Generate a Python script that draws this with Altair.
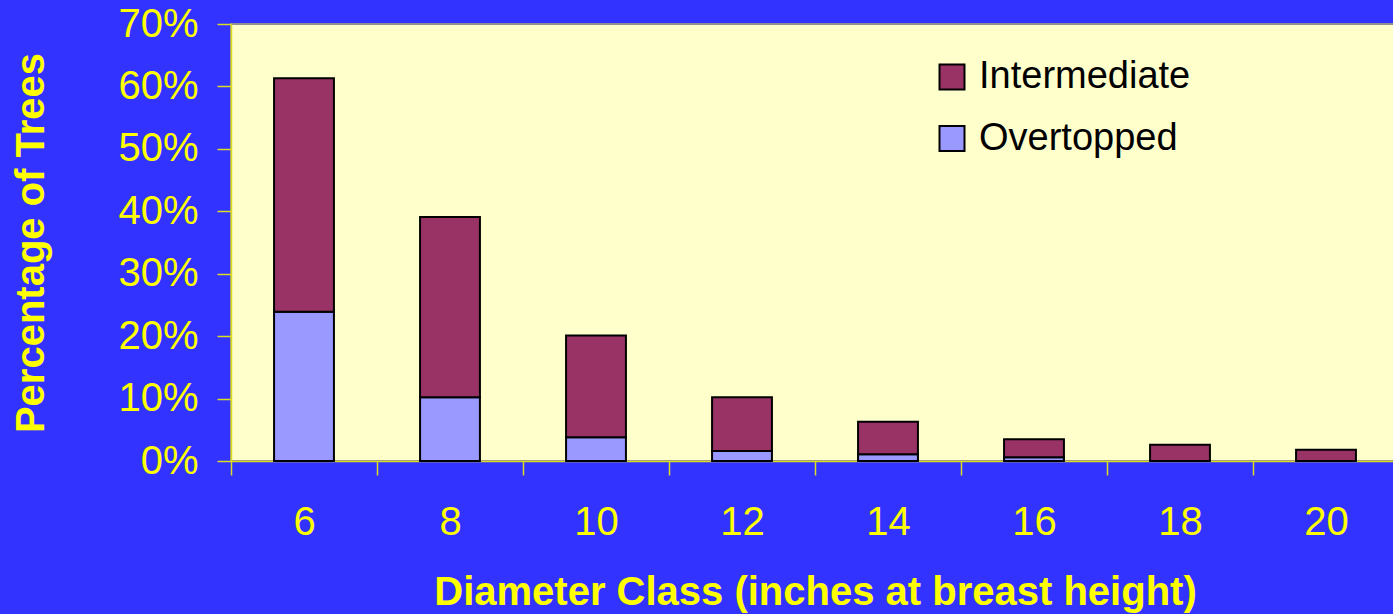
import altair as alt
import pandas as pd

classes = ["6", "8", "10", "12", "14", "16", "18", "20"]
overtopped = [23.9, 10.2, 3.8, 1.6, 1.1, 0.6, 0.0, 0.0]
intermediate = [37.4, 28.9, 16.3, 8.6, 5.2, 2.9, 2.6, 1.8]
series = ["Intermediate", "Overtopped"]
colors = ["#993366", "#9999FF"]
y_ticks = [0, 0.1, 0.2, 0.3, 0.4, 0.5, 0.6, 0.7]

rows = []
for i, c in enumerate(classes):
    rows.append({"cls": c, "series": "Overtopped", "ord": 0, "value": overtopped[i] / 100})
    rows.append({"cls": c, "series": "Intermediate", "ord": 1, "value": intermediate[i] / 100})
df = pd.DataFrame(rows)

FONT = "Liberation Sans"
YEL = "#FFFF00"
AXC = "#DCDC20"
BG = "#3333FF"

chart = alt.Chart(df).mark_bar(
    width=alt.RelativeBandSize(band=0.41), stroke="black", strokeWidth=2
).encode(
    x=alt.X(
        "cls:N", sort=classes,
        scale=alt.Scale(paddingInner=0, paddingOuter=0),
        axis=alt.Axis(
            title="Diameter Class (inches at breast height)",
            tickBand="extent", labelAngle=0, tickSize=14, labelPadding=27,
            titlePadding=30,
        ),
    ),
    y=alt.Y(
        "value:Q", stack="zero",
        scale=alt.Scale(domain=[0, 0.7], nice=False),
        axis=alt.Axis(
            title="Percentage of Trees", values=y_ticks, format=".0%",
            grid=False, tickSize=14, labelPadding=19, titlePadding=66,
        ),
    ),
    color=alt.Color(
        "series:N",
        scale=alt.Scale(domain=series, range=colors),
        legend=alt.Legend(
            title=None, orient="none", legendX=702, legendY=34,
            labelFontSize=38, labelFont=FONT, labelColor="black", labelLimit=500,
            symbolType="square", symbolSize=625, symbolStrokeColor="black",
            symbolStrokeWidth=2, rowPadding=23.5, labelOffset=8, padding=0,
            symbolOpacity=1,
        ),
    ),
    order=alt.Order("ord:Q", sort="ascending"),
).properties(
    width=1168, height=437,
    autosize=alt.AutoSizeParams(type="none"),
    padding={"left": 231, "top": 24, "right": 0, "bottom": 153},
    background=BG,
).configure_view(
    fill="#FFFFCC", stroke="#909090", strokeWidth=2,
).configure_axis(
    labelFont=FONT, labelFontSize=40, labelColor=YEL,
    titleFont=FONT, titleFontSize=40, titleFontWeight="bold", titleColor=YEL,
    domainColor=AXC, tickColor=AXC, domainWidth=1.5, tickWidth=1.5,
)

chart.save(
    "out.html",
    embed_options={
        "renderer": "svg",
        "actions": False,
        "defaultStyle": (
            "html, body { background: #3333FF; margin: 0; overflow: hidden; } "
            ".vega-embed svg { flex-shrink: 0 !important; max-width: none !important; }"
        ),
    },
)
